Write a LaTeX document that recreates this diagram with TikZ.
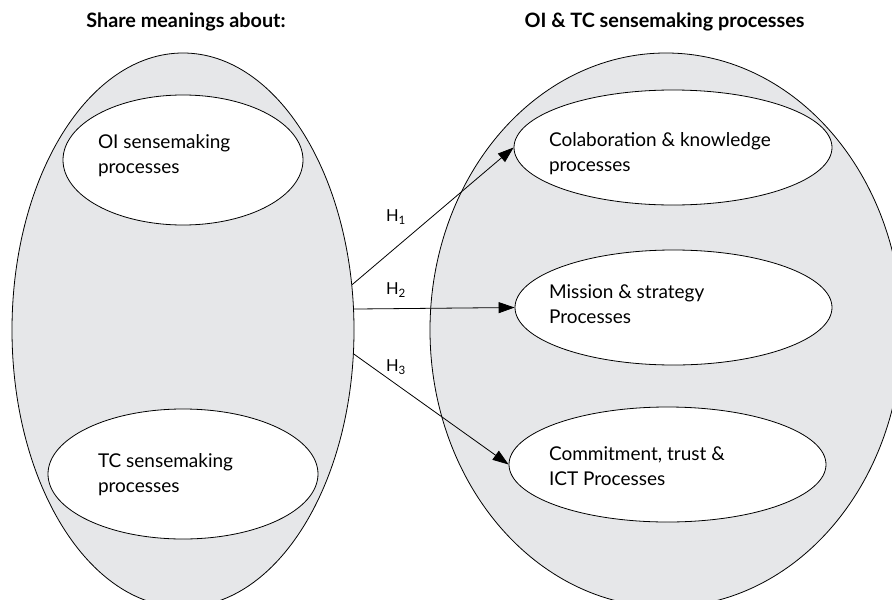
\documentclass[tikz,border=0pt]{standalone}
\usepackage{fontspec}
\setmainfont{Lato}
\usetikzlibrary{arrows.meta,shapes.geometric}
\definecolor{bggray}{HTML}{E6E7E9}
\newcommand\ellipsetext[3]{\raisebox{#1}[\height][\depth]{\parbox{#2}{\raggedright #3}}}
\begin{document}
\begin{tikzpicture}[x=1pt,y=-1pt,
  big/.style={draw, ellipse, fill=bggray, line width=0.8pt, inner sep=0pt},
  inner/.style={draw, ellipse, fill=white, line width=0.8pt, inner ysep=0pt, inner xsep=-60pt,
    font=\fontsize{19}{25}\selectfont},
  arr/.style={line width=0.8pt, -{Triangle[length=16pt,width=11pt]}},
  hlab/.style={font=\fontsize{16.5}{18}\selectfont, inner sep=0pt},
  ttl/.style={font=\bfseries\fontsize{19.8}{22}\selectfont, inner sep=0pt}]
\clip (0,0) rectangle (892,600);
\fill[white] (0,0) rectangle (892,600);
\node[ttl] (t1) at (186,22) {Share meanings about:};
\node[ttl] (t2) at (664.5,22) {OI \& TC sensemaking processes};
\node[big, minimum width=342pt, minimum height=554pt] (L) at (183,330) {};
\node[big, minimum width=472pt, minimum height=554pt] (R) at (666,330) {};
\node[inner, minimum width=240pt, minimum height=130pt] (oi) at (183,160)
  {\ellipsetext{4.3pt}{170pt}{OI sensemaking\\processes}};
\node[inner, minimum width=270pt, minimum height=130pt] (tc) at (183,474)
  {\ellipsetext{-1pt}{170pt}{TC sensemaking\\processes}};
\node[inner, minimum width=318pt, minimum height=115pt] (col) at (673,147.5)
  {\ellipsetext{-6pt}{248pt}{Colaboration \& knowledge\\processes}};
\node[inner, minimum width=317pt, minimum height=115pt] (mis) at (673.5,307.5)
  {\ellipsetext{3pt}{249pt}{Mission \& strategy\\Processes}};
\node[inner, minimum width=317pt, minimum height=115pt] (com) at (667.5,464.5)
  {\ellipsetext{-2pt}{237pt}{Commitment, trust \&\\ICT Processes}};
\draw[arr] (L.15) -- (col.west);
\draw[arr] (L.7.3) -- (mis.west);
\draw[arr] (L.-8.3) -- (com.west);
\node[hlab] (h1) at (396,217) {H\textsubscript{1}};
\node[hlab] (h2) at (396,290) {H\textsubscript{2}};
\node[hlab] (h3) at (396,367) {H\textsubscript{3}};
\end{tikzpicture}
\end{document}
